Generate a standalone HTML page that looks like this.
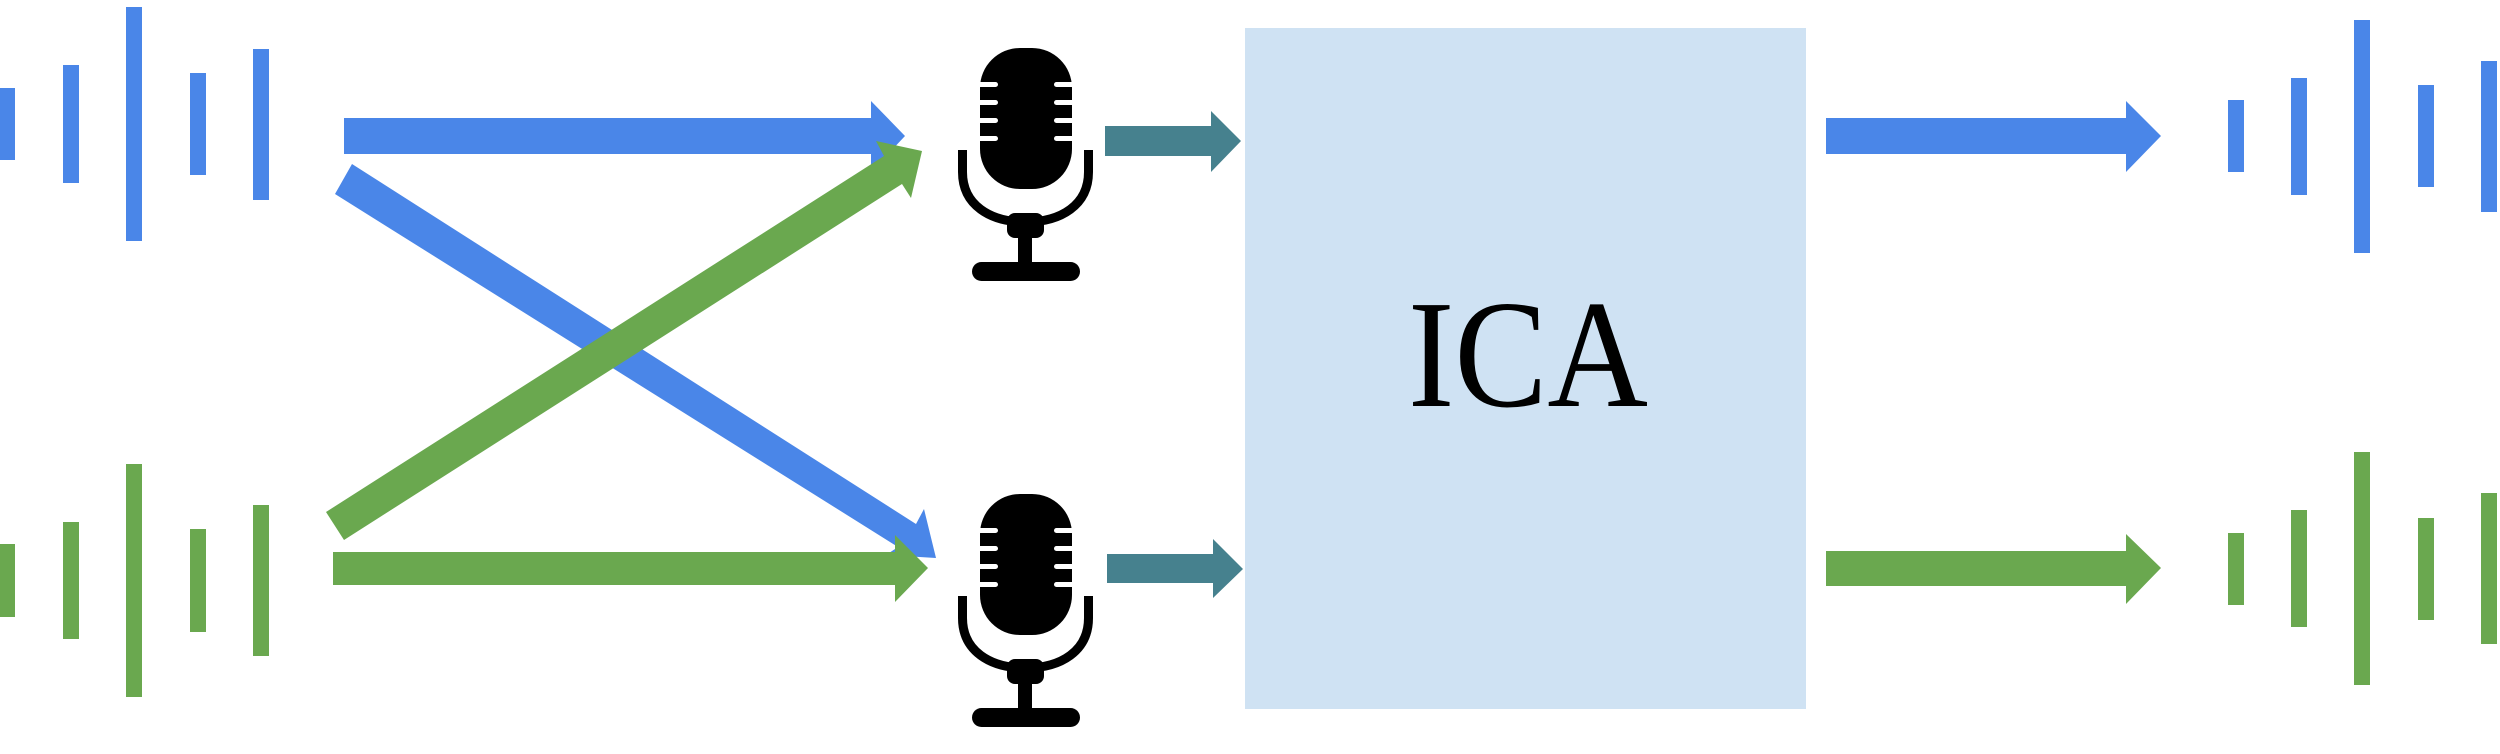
<!DOCTYPE html>
<html><head><meta charset="utf-8"><style>
html,body{margin:0;padding:0;background:#fff;}
svg{display:block;}
</style></head><body>
<svg width="2500" height="754" viewBox="0 0 2500 754" xmlns="http://www.w3.org/2000/svg">
<defs>
<g id="mic">
  <rect x="980" y="48" width="92" height="141" rx="40" fill="#000"/>
  <g fill="#fff">
    <rect x="976" y="82" width="22" height="5" rx="2.5"/>
    <rect x="976" y="100" width="22" height="5" rx="2.5"/>
    <rect x="976" y="118" width="22" height="5" rx="2.5"/>
    <rect x="976" y="136" width="22" height="5" rx="2.5"/>
    <rect x="1054" y="82" width="22" height="5" rx="2.5"/>
    <rect x="1054" y="100" width="22" height="5" rx="2.5"/>
    <rect x="1054" y="118" width="22" height="5" rx="2.5"/>
    <rect x="1054" y="136" width="22" height="5" rx="2.5"/>
  </g>
  <path d="M962.5 150 V172 C962.5 205 990 222 1025.5 222 C1061 222 1088.5 205 1088.5 172 V150" fill="none" stroke="#000" stroke-width="9"/>
  <rect x="1007" y="213" width="37" height="25" rx="8" fill="#000"/>
  <rect x="1018" y="236" width="14" height="28" fill="#000"/>
  <rect x="972" y="262" width="108" height="19" rx="9.5" fill="#000"/>
</g>
</defs>

<g fill="#4a86e8">
  <rect x="0" y="88" width="15" height="72"/>
  <rect x="63" y="65" width="16" height="118"/>
  <rect x="126" y="7" width="16" height="234"/>
  <rect x="190" y="73" width="16" height="102"/>
  <rect x="253" y="49" width="16" height="151"/>
</g>
<g fill="#6aa84f">
  <rect x="0" y="544" width="15" height="73"/>
  <rect x="63" y="522" width="16" height="117"/>
  <rect x="126" y="464" width="16" height="233"/>
  <rect x="190" y="529" width="16" height="103"/>
  <rect x="253" y="505" width="16" height="151"/>
</g>

<polygon fill="#4a86e8" points="344,118 871,118 871,101 905,136 871,172 871,154 344,154"/>
<polygon fill="#4a86e8" points="352,164 916,524 924,509 936,558 886,555 898,547 335,194"/>
<polygon fill="#6aa84f" points="326,512 884,156 876,141 922,151 911,198 902,184 344,540"/>
<polygon fill="#6aa84f" points="333,552 895,552 895,535 928,568 895,602 895,585 333,585"/>

<use href="#mic"/>
<use href="#mic" transform="translate(0,446)"/>

<polygon fill="#46818e" points="1105,126 1211,126 1211,111 1241,141 1211,172 1211,156 1105,156"/>
<polygon fill="#46818e" points="1107,554 1213,554 1213,539 1243,569 1213,598 1213,583 1107,583"/>

<rect x="1245" y="28" width="561" height="681" fill="#cfe2f3"/>
<text x="1408" y="406" font-family="'Liberation Serif', serif" font-size="154" textLength="240" lengthAdjust="spacingAndGlyphs" fill="#000">ICA</text>

<polygon fill="#4a86e8" points="1826,118 2126,118 2126,101 2161,136 2126,172 2126,154 1826,154"/>
<polygon fill="#6aa84f" points="1826,551 2126,551 2126,534 2161,568 2126,604 2126,586 1826,586"/>

<g fill="#4a86e8">
  <rect x="2228" y="100" width="16" height="72"/>
  <rect x="2291" y="78" width="16" height="117"/>
  <rect x="2354" y="20" width="16" height="233"/>
  <rect x="2418" y="85" width="16" height="102"/>
  <rect x="2481" y="61" width="16" height="151"/>
</g>
<g fill="#6aa84f">
  <rect x="2228" y="533" width="16" height="72"/>
  <rect x="2291" y="510" width="16" height="117"/>
  <rect x="2354" y="452" width="16" height="233"/>
  <rect x="2418" y="518" width="16" height="102"/>
  <rect x="2481" y="493" width="16" height="151"/>
</g>
</svg>
</body></html>
